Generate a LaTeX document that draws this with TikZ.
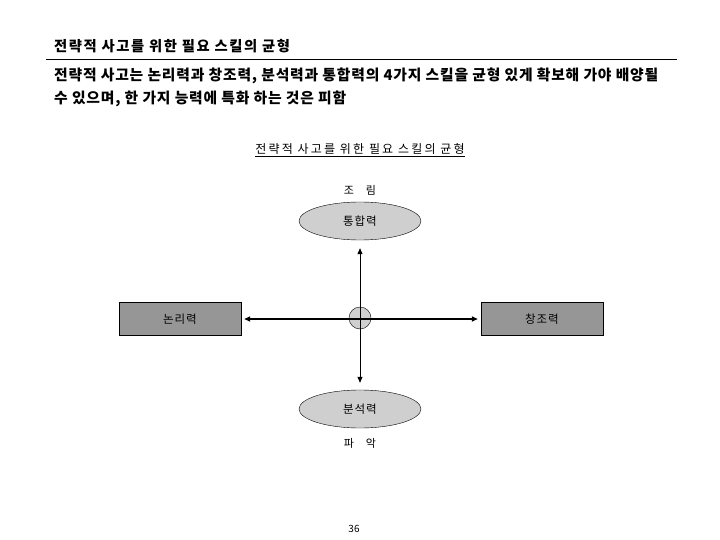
\documentclass[tikz,border=0pt]{standalone}
\usepackage{fontspec}
\setmainfont{Noto Sans CJK KR}
\usetikzlibrary{shapes.geometric,arrows.meta}
\definecolor{lightfill}{HTML}{CFCFCF}
\definecolor{darkfill}{HTML}{969696}
\tikzset{
  ovalbox/.style={ellipse,draw=black,fill=lightfill,minimum width=122pt,minimum height=38pt,inner sep=0pt,font=\fontsize{11.5}{13}\selectfont\addfontfeature{LetterSpace=8}},
  rectbox/.style={rectangle,draw=black,fill=darkfill,minimum width=122pt,minimum height=33pt,inner sep=0pt,font=\fontsize{11.5}{13}\selectfont\addfontfeature{LetterSpace=8}},
  conn/.style={draw=black,{Triangle[length=6pt,width=5pt]}-{Triangle[length=6pt,width=5pt]}},
  plain/.style={inner sep=0pt,font=\fontsize{11}{13}\selectfont},
}
\begin{document}
\begin{tikzpicture}[x=1pt,y=-1pt]
\useasboundingbox (0,0) rectangle (720,540);
\node[anchor=west,inner sep=0pt,font=\fontsize{14.3}{16}\selectfont\bfseries\addfontfeature{LetterSpace=11}] (title) at (54,46) {전략적 사고를 위한 필요 스킬의 균형};
\coordinate (ruleL) at (46,59);
\coordinate (ruleR) at (677,59);
\draw[line width=0.7pt] (ruleL) -- (ruleR);
\node[anchor=west,inner sep=0pt,font=\fontsize{14.8}{17}\selectfont\bfseries\addfontfeature{LetterSpace=5.5}] (body1) at (54,76) {전략적 사고는 논리력과 창조력, 분석력과 통합력의 4가지 스킬을 균형 있게 확보해 가야 배양될};
\node[anchor=west,inner sep=0pt,font=\fontsize{14.8}{17}\selectfont\bfseries\addfontfeature{LetterSpace=5.5}] (body2) at (54,99) {수 있으며, 한 가지 능력에 특화 하는 것은 피함};
\node[plain,font=\fontsize{12}{14}\selectfont\addfontfeature{LetterSpace=18}] (sub) at (360,150) {\underline{전략적 사고를 위한 필요 스킬의 균형}};
\node[plain] (jorim) at (360,190) {조\hspace{12pt}림};
\node[ovalbox] (top) at (360,221) {통합력};
\node[ovalbox] (bot) at (360,409) {분석력};
\node[rectbox] (left) at (180,319) {논리력};
\node[rectbox] (right) at (542,319) {창조력};
\node[circle,draw=black,fill=lightfill,minimum size=22pt,inner sep=0pt] (hub) at (360,318) {};
\node[plain] (paak) at (360,443) {파\hspace{12pt}악};
\node[plain,font=\fontsize{10}{12}\selectfont] (page) at (354,529) {36};
\draw[conn,line width=0.8pt] ([yshift=-8pt]top.south) -- ([yshift=7pt]bot.north);
\draw[conn,line width=1.5pt] ([xshift=3pt]left.east) -- ([xshift=-3pt]right.west);
\end{tikzpicture}
\end{document}
